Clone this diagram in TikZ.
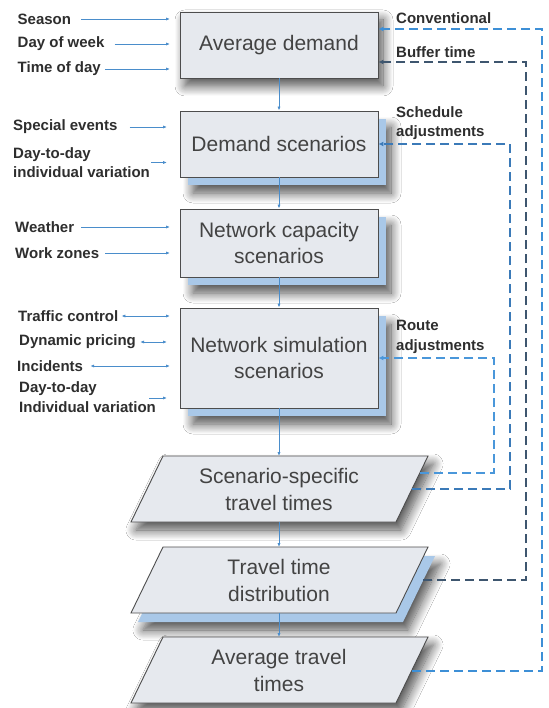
\documentclass[tikz,border=0pt]{standalone}
\usepackage{fontspec}
\setmainfont{Liberation Sans}
\usetikzlibrary{arrows.meta,shadows.blur,calc}

\definecolor{boxfill}{HTML}{E6E9EE}
\definecolor{boxline}{HTML}{4D4D4D}
\definecolor{layer}{HTML}{A9C8E8}
\definecolor{flow}{HTML}{4A8DCB}
\definecolor{inktext}{HTML}{2E2E2E}
\definecolor{conv}{HTML}{3D8FD6}
\definecolor{buffer}{HTML}{3E566F}
\definecolor{sched}{HTML}{3B7AB8}
\definecolor{route}{HTML}{4A97DA}

\tikzset{
  stagebox/.style={draw=boxline, line width=0.9pt, fill=boxfill, minimum width=198pt,
    inner sep=0pt, font=\fontsize{21}{26}\selectfont, text=inktext!90, align=center},
  layerbox/.style={fill=layer, draw=none, minimum width=198pt, inner sep=0pt},
  softshadow/.style={blur shadow={shadow xshift=5pt, shadow yshift=-8pt,
    shadow blur radius=10pt, shadow opacity=70, shadow blur steps=14}},
  paratext/.style={inner sep=0pt, font=\fontsize{21}{27}\selectfont, text=inktext!90, align=center},
  para/.style={draw=boxline, line width=0.9pt, fill=boxfill},
  cue/.style={font=\bfseries\fontsize{15}{19.5}\selectfont, text=inktext, inner sep=0pt,
    anchor=west, align=left},
  feed/.style={draw=flow, line width=0.8pt, -{Latex[length=4pt,width=3.2pt]}},
  inout/.style={draw=flow, line width=0.8pt, {Latex[length=4pt,width=3.2pt]}-{Latex[length=4pt,width=3.2pt]}},
  feedback/.style={dash pattern=on 9pt off 5pt, line width=2.1pt,
    -{Latex[length=5pt,width=5pt]}},
}

\begin{document}
\begin{tikzpicture}[x=1pt,y=-1pt]
\useasboundingbox[fill=white] (0,0) rectangle (548,708);

% ---- main stages -------------------------------------------------------
\node[stagebox, minimum height=66pt, softshadow] (avg) at (279,45) {Average demand};

\node[layerbox, minimum height=66pt, softshadow] (dsl) at (287,152) {};
\node[stagebox, minimum height=66pt] (ds) at (279,144) {Demand scenarios};

\node[layerbox, minimum height=68pt, softshadow] (ncl) at (287,251) {};
\node[stagebox, minimum height=68pt] (nc) at (279,243) {Network capacity\\scenarios};

\node[layerbox, minimum height=100pt, softshadow] (nsl) at (287,366) {};
\node[stagebox, minimum height=100pt] (ns) at (279,358) {Network simulation\\scenarios};

% ---- travel time outputs (parallelograms) -----------------------------
\draw[para, softshadow] (131,522) -- (396,522) -- (428,456) -- (163,456) -- cycle;
\node[paratext] (sst) at (279,489) {Scenario-specific\\travel times};

\fill[layer, softshadow] (138,622) -- (403,622) -- (435,556) -- (170,556) -- cycle;
\draw[para] (131,613) -- (396,613) -- (428,547) -- (163,547) -- cycle;
\node[paratext] (ttd) at (279,580) {Travel time\\distribution};

\draw[para, softshadow] (131,703) -- (396,703) -- (428,637) -- (163,637) -- cycle;
\node[paratext] (att) at (279,670) {Average travel\\times};

% attachment points on the parallelogram edges
\coordinate (sstT) at (279,456);
\coordinate (sstB) at (279,522);
\coordinate (ttdT) at (279,547);
\coordinate (ttdB) at (279,613);
\coordinate (attT) at (279,637);
\coordinate (sstRoute) at (420,473);
\coordinate (sstSched) at (412,489);
\coordinate (ttdBuf) at (423,580);
\coordinate (attConv) at (412,671);

% ---- main flow ----------------------------------------------------------
\draw[feed] (avg.south) -- (ds.north);
\draw[feed] (ds.south) -- (nc.north);
\draw[feed] (nc.south) -- (ns.north);
\draw[feed] (ns.south) -- (sstT);
\draw[feed] (sstB) -- (ttdT);
\draw[feed] (ttdB) -- (attT);

% ---- external inputs ----------------------------------------------------
\node[cue] (season) at (17.5,19) {Season};
\node[cue] (dow) at (17.5,44) {Day of week};
\node[cue] (tod) at (17.5,69) {Time of day};
\node[cue] (spev) at (13,127) {Special events};
\node[cue] (dtd1) at (13,162.5) {Day-to-day\\individual variation};
\node[cue] (weather) at (15,227) {Weather};
\node[cue] (wz) at (15,253) {Work zones};
\node[cue] (tc) at (18,316) {Traffic control};
\node[cue] (dp) at (19,342) {Dynamic pricing};
\node[cue] (inc) at (17,366) {Incidents};
\node[cue] (dtd2) at (19,397) {Day-to-day\\Individual variation};

\coordinate (tipx) at (170,0);
\coordinate (tipx2) at (167,0);

\draw[feed] ([xshift=10pt]season.east) -- (season.east -| tipx);
\draw[feed] ([xshift=10pt]dow.east) -- (dow.east -| tipx);
\draw[feed] ([xshift=4pt]tod.east) -- (tod.east -| tipx);
\draw[feed] ([xshift=12pt]spev.east) -- (spev.east -| tipx2);
\draw[feed] ([xshift=1pt]dtd1.east) -- (dtd1.east -| tipx2);
\draw[feed] ([xshift=7pt]weather.east) -- (weather.east -| tipx);
\draw[feed] ([xshift=6pt]wz.east) -- (wz.east -| tipx);
\draw[inout] ([xshift=3pt]tc.east) -- (tc.east -| tipx);
\draw[inout] ([xshift=4pt]dp.east) -- (dp.east -| tipx2);
\draw[inout] ([xshift=7pt]inc.east) -- (inc.east -| tipx);
\draw[feed] ([xshift=-7pt,yshift=-1pt]dtd2.east) -- ([yshift=-1pt]dtd2.east -| tipx2);

% ---- feedback loops -----------------------------------------------------
\node[cue] (lconv) at (396,18) {Conventional};
\node[cue] (lbuf) at (396,52) {Buffer time};
\node[cue] (lsched) at (396,123) {Schedule\\adjustments};
\node[cue] (lroute) at (396,337) {Route\\adjustments};

\coordinate (convIn) at ([yshift=16pt]avg.east);
\coordinate (bufIn) at ([yshift=-17pt]avg.east);
\coordinate (xroute) at (494,0);
\coordinate (xsched) at (510,0);
\coordinate (xbuf) at (526,0);
\coordinate (xconv) at (542,0);

\draw[feedback, draw=route] (sstRoute) -| (xroute |- ns.east) -- (ns.east);
\draw[feedback, draw=sched] (sstSched) -| (xsched |- ds.east) -- (ds.east);
\draw[feedback, draw=buffer] (ttdBuf) -| (xbuf |- bufIn) -- (bufIn);
\draw[feedback, draw=conv] (attConv) -| (xconv |- convIn) -- (convIn);
\end{tikzpicture}
\end{document}
